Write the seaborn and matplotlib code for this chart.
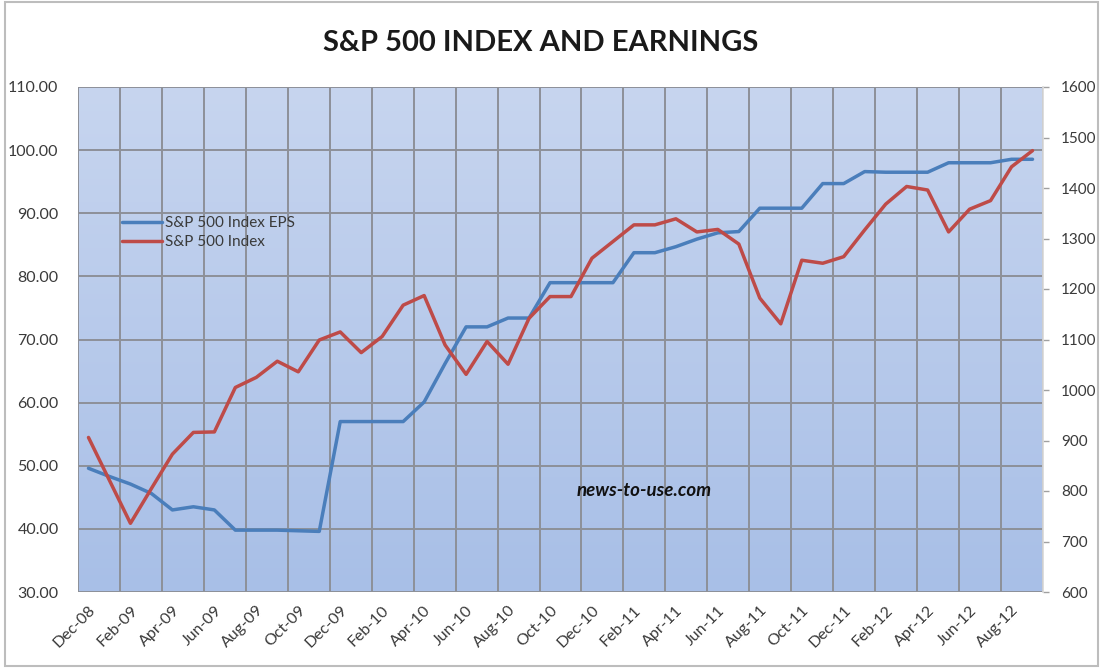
import numpy as np
import pandas as pd
import matplotlib
matplotlib.use("Agg")
import matplotlib.pyplot as plt
import seaborn as sns
from matplotlib.patches import Rectangle
from matplotlib.colors import LinearSegmentedColormap

# ---- data (monthly, Dec-08 .. Sep-12) ----
months = ["Dec-08", "Jan-09", "Feb-09", "Mar-09", "Apr-09", "May-09", "Jun-09", "Jul-09",
          "Aug-09", "Sep-09", "Oct-09", "Nov-09", "Dec-09", "Jan-10", "Feb-10", "Mar-10",
          "Apr-10", "May-10", "Jun-10", "Jul-10", "Aug-10", "Sep-10", "Oct-10", "Nov-10",
          "Dec-10", "Jan-11", "Feb-11", "Mar-11", "Apr-11", "May-11", "Jun-11", "Jul-11",
          "Aug-11", "Sep-11", "Oct-11", "Nov-11", "Dec-11", "Jan-12", "Feb-12", "Mar-12",
          "Apr-12", "May-12", "Jun-12", "Jul-12", "Aug-12", "Sep-12"]

eps = [49.6, 48.3, 47.1, 45.6, 43.0, 43.5, 43.0, 39.8, 39.8, 39.8, 39.7, 39.6,
       57.0, 57.0, 57.0, 57.0, 60.1, 66.2, 72.0, 72.0, 73.4, 73.4, 79.0, 79.0,
       79.0, 79.0, 83.75, 83.75, 84.7, 85.9, 86.9, 87.1, 90.8, 90.8, 90.8, 94.7,
       94.7, 96.6, 96.5, 96.5, 96.5, 98.0, 98.0, 98.0, 98.55, 98.55]

index_vals = [906, 821, 736, 805, 873, 916, 917, 1005, 1025, 1057, 1036, 1099,
              1115, 1074, 1106, 1168, 1187, 1089, 1031, 1096, 1051, 1142, 1185, 1185,
              1261, 1294, 1327, 1327, 1339, 1313, 1318, 1289, 1182, 1131, 1257, 1251,
              1264, 1317, 1368, 1403, 1396, 1313, 1358, 1375, 1442, 1474]

left_ticks = [30, 40, 50, 60, 70, 80, 90, 100, 110]
right_ticks = [600, 700, 800, 900, 1000, 1100, 1200, 1300, 1400, 1500, 1600]

title = "S&P 500 INDEX AND EARNINGS"
series_names = ["S&P 500 Index EPS", "S&P 500 Index"]
watermark = "news-to-use.com"

df = pd.DataFrame({"pos": np.arange(len(months)), "month": months,
                   "eps": eps, "index": index_vals})

sns.set_theme(style="white")
plt.rcParams['font.family'] = ['Lato', 'DejaVu Sans']

W, H = 1100, 668
fig = plt.figure(figsize=(W / 100, H / 100), dpi=100)
fig.patch.set_facecolor("white")
ax = fig.add_axes([78 / W, 76 / H, 965 / W, 505 / H])

# gradient plot background
grad = np.linspace(0, 1, 256).reshape(-1, 1)
cmap = LinearSegmentedColormap.from_list("bg", ["#c7d5ef", "#a8bfe7"])
ax.imshow(grad, extent=[0, 1, 0, 1], transform=ax.transAxes, cmap=cmap,
          aspect="auto", zorder=0, interpolation="bilinear")

blue = "#4a7ebb"
red = "#be4b48"
lw = 2.5

sns.lineplot(data=df, x="pos", y="eps", ax=ax, color=blue, lw=lw,
             legend=False, zorder=3)
ax2 = ax.twinx()
sns.lineplot(data=df, x="pos", y="index", ax=ax2, color=red, lw=lw,
             legend=False, zorder=3)

n = len(months)
ax.set_xlim(-0.5, n - 0.5)
ax.set_ylim(left_ticks[0], left_ticks[-1])
ax2.set_ylim(right_ticks[0], right_ticks[-1])

grid_col = "#8d9098"
ax.set_axisbelow(True)
ax.set_yticks(left_ticks)
ax.set_yticklabels([f"{v:.2f}" for v in left_ticks])
ax.set_xticks(np.arange(0, n, 2))
ax.set_xticklabels(months[::2], rotation=45, ha="right", rotation_mode="anchor")
ax.set_xticks(np.arange(-0.5, n, 2), minor=True)
ax.grid(False)
ax.yaxis.grid(True, color=grid_col, lw=1.4)
ax.xaxis.grid(True, which="minor", color=grid_col, lw=1.4)
ax.set_xlabel("")
ax.set_ylabel("")
ax2.set_ylabel("")

ax2.set_yticks(right_ticks)
ax2.set_yticklabels([str(v) for v in right_ticks])
ax2.grid(False)
ax2.patch.set_visible(False)

tick_col = "#3a3a3a"
ax.tick_params(axis="y", length=0, pad=14, labelsize=11.5, labelcolor=tick_col)
ax.tick_params(axis="x", which="both", length=0, pad=8, labelsize=11.5, labelcolor=tick_col)
ax2.tick_params(axis="y", length=4, width=1, color="#a0a0a0", direction="out",
                pad=9, labelsize=11, labelcolor=tick_col)

for s in ax.spines.values():
    s.set_visible(False)
for name, s in ax2.spines.items():
    s.set_visible(name == "right")
ax2.spines["right"].set_color("#d8d8d8")

# legend
handles = [ax.lines[0], ax2.lines[0]]
ax2.legend(handles, series_names, loc="upper left",
           bbox_to_anchor=((116 - 78) / 965, (592 - 210) / 505),
           frameon=False, fontsize=11, handlelength=2.6, handletextpad=0.2,
           labelspacing=0.35, borderaxespad=0, labelcolor=tick_col)

# watermark
ax2.text((644 - 78) / 965, (592 - 490) / 505, watermark, transform=ax2.transAxes,
         ha="center", va="center", fontsize=13.5, fontweight="bold",
         fontstyle="italic", color="#111111", zorder=5)

# title
fig.text(541 / W, 1 - 43 / H, title, ha="center", va="center",
         fontsize=21, fontweight="bold", color="#1a1a1a")

# chart frame
fig.add_artist(Rectangle((5 / W, 2 / H), 1093 / W, 664 / H, transform=fig.transFigure,
                         fill=False, ec="#bdbdbd", lw=1.5))

fig.savefig("out.png", dpi=100, facecolor="white")
